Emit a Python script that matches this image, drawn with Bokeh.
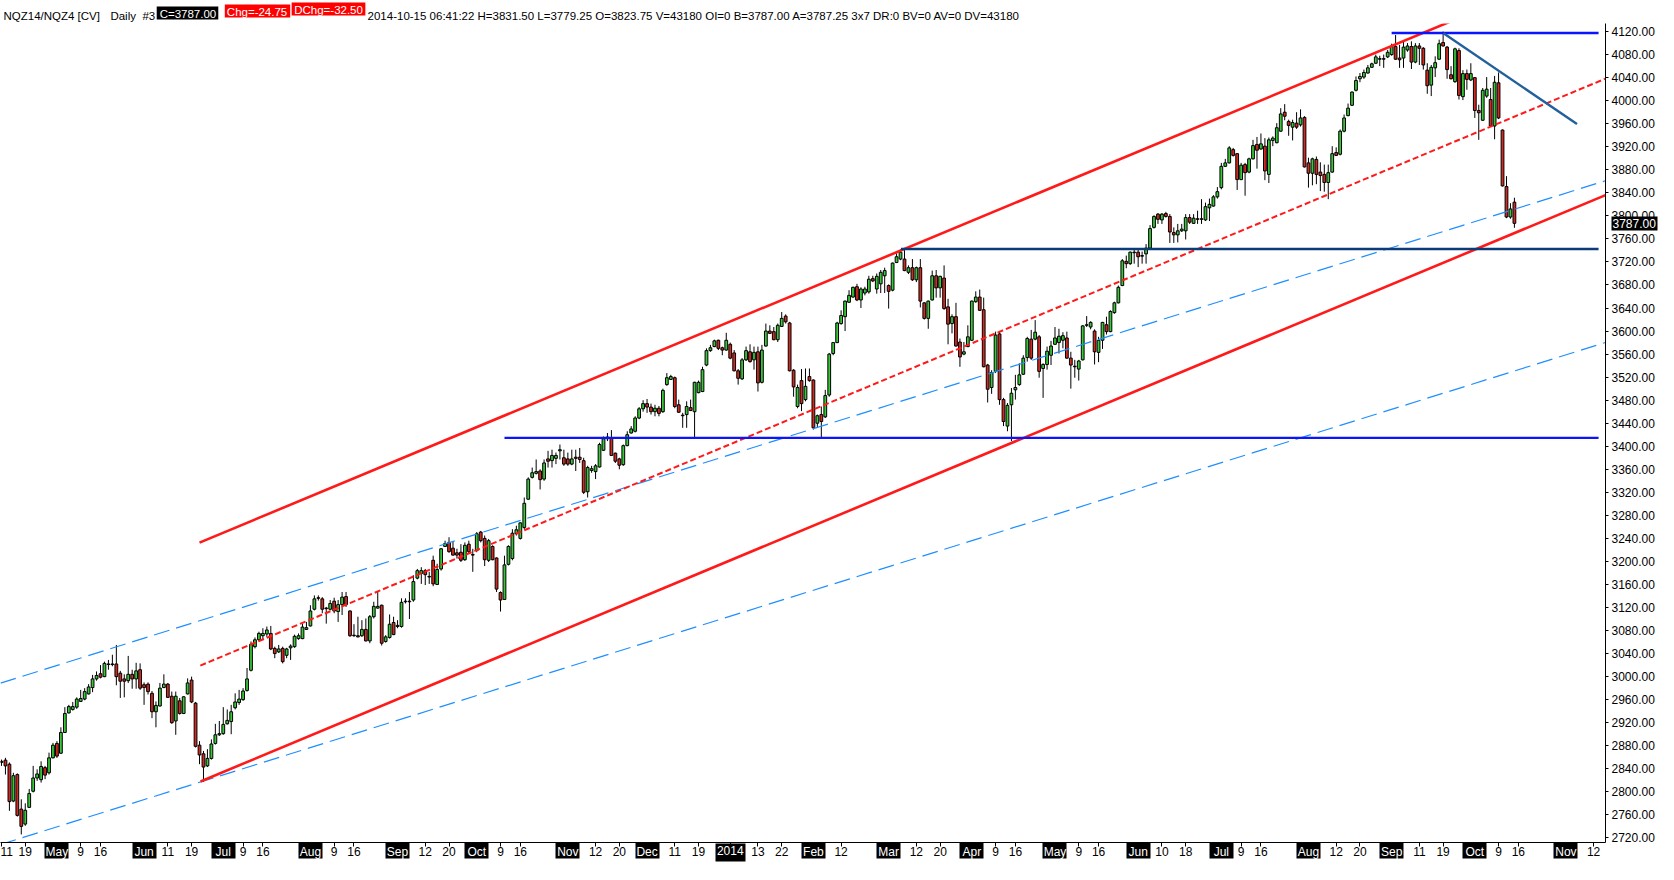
import pandas as pd
from bokeh.plotting import figure
from bokeh.models import ColumnDataSource, FixedTicker, PrintfTickFormatter, LinearAxis, Range1d
from bokeh.embed import file_html
from bokeh.resources import INLINE

# ---------------- data ----------------
FIRST_DAY = "2013-04-11"
HOLIDAYS = ["2013-05-27", "2013-07-04", "2013-09-02", "2013-11-28", "2013-12-25",
            "2014-01-01", "2014-01-20", "2014-02-17", "2014-04-18", "2014-05-26",
            "2014-07-04", "2014-09-01", "2014-11-27"]

opens = [
    2853, 2855, 2848, 2784, 2830, 2770, 2744, 2773, 2801, 2824,
    2821, 2842, 2833, 2859, 2884, 2867, 2903, 2937, 2943, 2947,
    2957, 2961, 2970, 2981, 2996, 3005, 3000, 3022, 3021, 3022,
    3006, 2996, 2993, 3004, 2996, 3012, 2986, 2987, 2971, 2939,
    2949, 2981, 2987, 2966, 2923, 2958, 2936, 2970, 2994, 2954,
    2881, 2866, 2845, 2858, 2884, 2899, 2901, 2918, 2922, 2946,
    2955, 2960, 2976, 3011, 3052, 3064, 3071, 3074, 3075, 3049,
    3043, 3049, 3037, 3050, 3052, 3066, 3066, 3082, 3088, 3117,
    3137, 3135, 3119, 3117, 3131, 3113, 3125, 3139, 3114, 3072,
    3071, 3071, 3082, 3062, 3104, 3119, 3124, 3061, 3068, 3094,
    3089, 3087, 3130, 3131, 3133, 3171, 3179, 3184, 3174, 3202,
    3160, 3187, 3226, 3233, 3223, 3215, 3216, 3203, 3230, 3212,
    3219, 3251, 3240, 3202, 3226, 3206, 3146, 3134, 3195, 3205,
    3248, 3240, 3259, 3308, 3346, 3353, 3357, 3343, 3378, 3375,
    3379, 3392, 3380, 3378, 3369, 3381, 3381, 3375, 3321, 3358,
    3356, 3364, 3393, 3413, 3415, 3388, 3378, 3368, 3401, 3423,
    3426, 3449, 3465, 3474, 3468, 3460, 3466, 3460, 3507, 3516,
    3519, 3472, 3454, 3455, 3467, 3460, 3493, 3495, 3541, 3566,
    3573, 3584, 3571, 3567, 3577, 3562, 3531, 3517, 3550, 3564,
    3550, 3564, 3511, 3574, 3600, 3599, 3585, 3608, 3626, 3614,
    3532, 3469, 3514, 3481, 3521, 3515, 3440, 3455, 3451, 3489,
    3561, 3580, 3613, 3625, 3650, 3659, 3677, 3654, 3666, 3668,
    3691, 3673, 3682, 3696, 3679, 3671, 3719, 3725, 3725, 3702,
    3710, 3689, 3710, 3649, 3622, 3654, 3696, 3675, 3692, 3642,
    3613, 3625, 3581, 3560, 3573, 3584, 3651, 3659, 3637, 3541,
    3502, 3530, 3595, 3481, 3435, 3472, 3498, 3507, 3525, 3554,
    3586, 3586, 3590, 3535, 3542, 3558, 3577, 3580, 3584, 3588,
    3553, 3539, 3534, 3550, 3610, 3607, 3600, 3563, 3584, 3611,
    3599, 3632, 3649, 3679, 3721, 3717, 3736, 3737, 3731, 3734,
    3744, 3780, 3803, 3793, 3804, 3799, 3771, 3767, 3774, 3774,
    3797, 3787, 3795, 3794, 3793, 3814, 3817, 3833, 3849, 3886,
    3892, 3915, 3908, 3863, 3889, 3876, 3899, 3924, 3916, 3921,
    3872, 3931, 3927, 3947, 3980, 3964, 3954, 3961, 3958, 3971,
    3892, 3874, 3898, 3876, 3872, 3858, 3876, 3910, 3907, 3947,
    3974, 3992, 4018, 4038, 4041, 4048, 4058, 4065, 4072, 4073,
    4076, 4080, 4094, 4074, 4074, 4088, 4094, 4067, 4095, 4091,
    4053, 4027, 4057, 4072, 4101, 4093, 4045, 4033, 4087, 4007,
    4047, 4036, 4040, 3983, 3966, 4008, 4002, 3956, 4031, 3949,
    3851, 3798, 3823.75]

highs = [
    2856, 2859, 2851, 2833, 2832, 2787, 2780, 2805, 2845, 2839,
    2853, 2845, 2868, 2885, 2888, 2912, 2947, 2951, 2956, 2964,
    2977, 2980, 2987, 3003, 3009, 3020, 3026, 3029, 3038, 3055,
    3010, 3004, 3036, 3012, 3024, 3023, 2990, 2990, 2975, 2957,
    2989, 3004, 2989, 2974, 2974, 2963, 2966, 2997, 3000, 2956,
    2888, 2871, 2874, 2891, 2918, 2923, 2947, 2943, 2951, 2971,
    2977, 2980, 3015, 3061, 3068, 3078, 3084, 3087, 3088, 3052,
    3055, 3052, 3050, 3056, 3073, 3075, 3092, 3095, 3124, 3141,
    3141, 3138, 3121, 3133, 3137, 3133, 3147, 3147, 3115, 3091,
    3104, 3098, 3101, 3107, 3130, 3147, 3125, 3072, 3108, 3104,
    3098, 3136, 3136, 3147, 3176, 3187, 3190, 3187, 3182, 3210,
    3196, 3223, 3236, 3242, 3235, 3222, 3230, 3233, 3236, 3222,
    3251, 3253, 3245, 3239, 3228, 3207, 3148, 3210, 3228, 3256,
    3262, 3268, 3311, 3346, 3363, 3377, 3360, 3377, 3392, 3394,
    3389, 3403, 3394, 3389, 3394, 3394, 3397, 3380, 3366, 3366,
    3369, 3406, 3417, 3423, 3428, 3389, 3380, 3403, 3426, 3435,
    3452, 3468, 3480, 3482, 3474, 3472, 3470, 3500, 3527, 3524,
    3521, 3481, 3458, 3478, 3481, 3512, 3514, 3538, 3570, 3576,
    3585, 3585, 3573, 3597, 3580, 3567, 3534, 3553, 3573, 3577,
    3573, 3573, 3576, 3613, 3610, 3607, 3613, 3633, 3629, 3616,
    3534, 3507, 3534, 3535, 3535, 3516, 3455, 3469, 3498, 3562,
    3581, 3616, 3636, 3653, 3671, 3677, 3682, 3676, 3677, 3696,
    3696, 3700, 3706, 3710, 3681, 3719, 3735, 3742, 3742, 3714,
    3725, 3712, 3725, 3650, 3653, 3705, 3706, 3696, 3714, 3656,
    3629, 3649, 3587, 3581, 3610, 3653, 3669, 3672, 3658, 3543,
    3532, 3599, 3599, 3484, 3475, 3501, 3524, 3544, 3558, 3590,
    3602, 3619, 3593, 3544, 3573, 3583, 3607, 3604, 3598, 3599,
    3564, 3550, 3550, 3610, 3626, 3617, 3603, 3590, 3616, 3625,
    3636, 3651, 3679, 3725, 3731, 3738, 3743, 3743, 3738, 3751,
    3784, 3801, 3805, 3805, 3807, 3803, 3780, 3786, 3786, 3803,
    3803, 3803, 3809, 3829, 3823, 3830, 3836, 3850, 3892, 3899,
    3921, 3918, 3909, 3892, 3892, 3901, 3932, 3937, 3943, 3935,
    3936, 3938, 3961, 3987, 3994, 3967, 3967, 3980, 3985, 3973,
    3901, 3901, 3903, 3893, 3889, 3889, 3921, 3919, 3950, 3976,
    3995, 4016, 4042, 4048, 4054, 4062, 4066, 4080, 4078, 4080,
    4088, 4099, 4114, 4097, 4103, 4100, 4103, 4100, 4100, 4093,
    4065, 4062, 4077, 4106, 4120, 4095, 4060, 4092, 4091, 4053,
    4054, 4065, 4041, 3993, 4022, 4041, 4022, 4043, 4049, 3950,
    3869, 3822, 3831.5]

lows = [
    2845, 2830, 2767, 2782, 2757, 2726, 2741, 2772, 2799, 2819,
    2816, 2822, 2830, 2858, 2859, 2866, 2902, 2936, 2941, 2944,
    2956, 2959, 2969, 2973, 2993, 2997, 2999, 3012, 3018, 2985,
    2963, 2964, 2989, 2979, 2979, 2977, 2951, 2969, 2928, 2912,
    2948, 2980, 2963, 2918, 2899, 2934, 2935, 2969, 2954, 2877,
    2848, 2817, 2843, 2856, 2882, 2897, 2899, 2917, 2900, 2943,
    2951, 2958, 2974, 3009, 3049, 3061, 3064, 3069, 3046, 3032,
    3041, 3023, 3032, 3029, 3050, 3064, 3065, 3081, 3087, 3115,
    3132, 3110, 3092, 3115, 3110, 3095, 3107, 3121, 3069, 3069,
    3068, 3069, 3061, 3058, 3101, 3118, 3054, 3059, 3066, 3072,
    3084, 3085, 3127, 3100, 3130, 3169, 3161, 3159, 3161, 3157,
    3159, 3184, 3225, 3215, 3210, 3205, 3199, 3201, 3213, 3182,
    3216, 3233, 3192, 3199, 3202, 3147, 3113, 3133, 3193, 3202,
    3245, 3238, 3256, 3307, 3344, 3351, 3325, 3340, 3363, 3363,
    3369, 3377, 3366, 3366, 3367, 3357, 3371, 3317, 3311, 3354,
    3343, 3363, 3392, 3409, 3383, 3371, 3360, 3366, 3400, 3422,
    3424, 3447, 3460, 3458, 3455, 3452, 3452, 3458, 3505, 3515,
    3466, 3458, 3432, 3432, 3461, 3414, 3492, 3494, 3539, 3564,
    3572, 3567, 3558, 3566, 3551, 3530, 3507, 3515, 3548, 3545,
    3533, 3495, 3509, 3573, 3595, 3584, 3581, 3607, 3613, 3530,
    3486, 3466, 3461, 3478, 3512, 3429, 3432, 3415, 3449, 3486,
    3558, 3579, 3611, 3600, 3649, 3658, 3652, 3640, 3662, 3665,
    3685, 3665, 3666, 3666, 3639, 3669, 3718, 3723, 3704, 3699,
    3687, 3685, 3641, 3620, 3604, 3653, 3658, 3658, 3637, 3577,
    3596, 3573, 3538, 3558, 3572, 3583, 3649, 3635, 3537, 3476,
    3491, 3527, 3472, 3435, 3426, 3409, 3481, 3505, 3524, 3547,
    3550, 3584, 3519, 3484, 3533, 3541, 3576, 3561, 3570, 3552,
    3500, 3519, 3514, 3549, 3607, 3603, 3542, 3546, 3569, 3594,
    3598, 3630, 3648, 3678, 3709, 3715, 3717, 3711, 3717, 3717,
    3743, 3778, 3786, 3786, 3797, 3753, 3753, 3754, 3772, 3759,
    3786, 3786, 3786, 3786, 3791, 3791, 3816, 3830, 3846, 3885,
    3891, 3903, 3845, 3862, 3835, 3874, 3898, 3882, 3915, 3862,
    3857, 3921, 3926, 3946, 3966, 3939, 3931, 3951, 3955, 3884,
    3849, 3853, 3855, 3843, 3842, 3829, 3875, 3904, 3905, 3945,
    3973, 3991, 4016, 4032, 4038, 4047, 4057, 4064, 4060, 4057,
    4074, 4078, 4071, 4057, 4057, 4085, 4055, 4065, 4062, 4054,
    4012, 4008, 4041, 4071, 4094, 4038, 4037, 4031, 4002, 4001,
    4019, 4034, 3970, 3932, 3965, 4005, 3955, 3933, 3968, 3851,
    3796, 3795, 3779.25]

closes = [
    2851, 2845, 2783, 2828, 2759, 2740, 2768, 2797, 2824, 2831,
    2844, 2829, 2859, 2881, 2862, 2903, 2936, 2948, 2948, 2961,
    2962, 2974, 2982, 2996, 3002, 2999, 3023, 3021, 3022, 3000,
    2992, 2992, 3004, 2996, 3010, 2980, 2981, 2974, 2939, 2950,
    2980, 2987, 2964, 2920, 2966, 2936, 2965, 2989, 2956, 2879,
    2864, 2843, 2858, 2883, 2899, 2901, 2917, 2924, 2939, 2956,
    2961, 2975, 2996, 3056, 3064, 3075, 3075, 3081, 3048, 3040,
    3048, 3026, 3048, 3053, 3070, 3071, 3086, 3085, 3114, 3135,
    3136, 3117, 3118, 3127, 3114, 3125, 3138, 3125, 3071, 3071,
    3069, 3082, 3062, 3104, 3122, 3122, 3058, 3069, 3091, 3073,
    3087, 3129, 3131, 3130, 3165, 3184, 3184, 3177, 3173, 3161,
    3186, 3222, 3231, 3217, 3211, 3211, 3202, 3228, 3217, 3211,
    3248, 3236, 3203, 3236, 3203, 3152, 3133, 3194, 3226, 3249,
    3255, 3267, 3301, 3343, 3354, 3356, 3342, 3371, 3374, 3384,
    3384, 3394, 3369, 3369, 3378, 3379, 3377, 3320, 3363, 3361,
    3366, 3403, 3413, 3416, 3384, 3374, 3367, 3401, 3420, 3430,
    3449, 3465, 3474, 3468, 3460, 3466, 3457, 3497, 3519, 3521,
    3469, 3459, 3453, 3469, 3462, 3511, 3511, 3533, 3566, 3571,
    3583, 3570, 3567, 3584, 3553, 3531, 3518, 3550, 3566, 3547,
    3563, 3510, 3567, 3600, 3596, 3585, 3610, 3622, 3616, 3531,
    3503, 3502, 3474, 3504, 3514, 3432, 3453, 3443, 3488, 3560,
    3580, 3614, 3627, 3652, 3662, 3676, 3654, 3673, 3673, 3690,
    3687, 3695, 3702, 3705, 3669, 3718, 3729, 3737, 3705, 3710,
    3689, 3710, 3652, 3622, 3652, 3696, 3675, 3695, 3639, 3612,
    3625, 3574, 3555, 3564, 3590, 3652, 3659, 3636, 3538, 3499,
    3528, 3593, 3481, 3443, 3471, 3492, 3502, 3524, 3553, 3587,
    3553, 3598, 3530, 3542, 3565, 3574, 3588, 3591, 3592, 3553,
    3541, 3538, 3548, 3609, 3611, 3615, 3564, 3584, 3615, 3599,
    3634, 3649, 3676, 3722, 3717, 3737, 3737, 3729, 3730, 3744,
    3778, 3799, 3794, 3803, 3799, 3772, 3767, 3774, 3777, 3797,
    3789, 3796, 3794, 3795, 3816, 3820, 3833, 3842, 3886, 3892,
    3918, 3905, 3863, 3888, 3875, 3899, 3922, 3914, 3925, 3878,
    3932, 3935, 3953, 3977, 3973, 3957, 3962, 3954, 3970, 3885,
    3874, 3899, 3872, 3870, 3858, 3875, 3908, 3905, 3947, 3970,
    3987, 4015, 4035, 4042, 4049, 4057, 4064, 4076, 4073, 4072,
    4084, 4094, 4072, 4071, 4093, 4095, 4067, 4095, 4091, 4062,
    4026, 4058, 4066, 4099, 4095, 4054, 4038, 4090, 4009, 4047,
    4037, 4047, 3983, 3979, 4018, 4020, 3956, 4032, 3970, 3852,
    3798, 3812, 3787]

# drawn trend lines: (bar index, price) end points
upper_channel = [(50.0, 3232.7), (405.0, 4249.6)]
lower_channel = [(50.25, 2818.0), (405.0, 3836.1)]
mid_channel = [(50.2, 3019.2), (405.0, 4038.3)]
blue_upper = [(-0.25, 2988.7), (405.0, 3861.0)]
blue_lower = [(-0.25, 2708.5), (405.0, 3580.2)]
support_3414 = [(127.0, 3414.5), (403.25, 3414.5)]
resist_3742 = [(227.1, 3742.5), (403.25, 3742.5)]
top_4117 = [(351.0, 4117.5), (403.25, 4117.5)]
down_trend = [(364.1, 4117.1), (397.8, 3959.5)]

TICK_DATES = ["2013-04-11", "2013-04-19", "2013-05-01", "2013-05-09", "2013-05-16",
              "2013-06-03", "2013-06-11", "2013-06-19", "2013-07-01", "2013-07-09",
              "2013-07-16", "2013-08-01", "2013-08-09", "2013-08-16", "2013-09-03",
              "2013-09-12", "2013-09-20", "2013-10-01", "2013-10-09", "2013-10-16",
              "2013-11-01", "2013-11-12", "2013-11-20", "2013-12-02", "2013-12-11",
              "2013-12-19", "2014-01-02", "2014-01-13", "2014-01-22", "2014-02-03",
              "2014-02-12", "2014-03-03", "2014-03-12", "2014-03-20", "2014-04-01",
              "2014-04-09", "2014-04-16", "2014-05-01", "2014-05-09", "2014-05-16",
              "2014-06-02", "2014-06-10", "2014-06-18", "2014-07-01", "2014-07-09",
              "2014-07-16", "2014-08-01", "2014-08-12", "2014-08-20", "2014-09-02",
              "2014-09-11", "2014-09-19", "2014-10-01", "2014-10-09", "2014-10-16",
              "2014-11-03", "2014-11-12"]
TICK_TEXT = ["11", "19", "May", "9", "16", "Jun", "11", "19", "Jul", "9",
             "16", "Aug", "9", "16", "Sep", "12", "20", "Oct", "9", "16",
             "Nov", "12", "20", "Dec", "11", "19", "2014", "13", "22", "Feb",
             "12", "Mar", "12", "20", "Apr", "9", "16", "May", "9", "16",
             "Jun", "10", "18", "Jul", "9", "16", "Aug", "12", "20", "Sep",
             "11", "19", "Oct", "9", "16", "Nov", "12"]

Y_TICKS = [2720, 2760, 2800, 2840, 2880, 2920, 2960, 3000, 3040, 3080, 3120, 3160,
           3200, 3240, 3280, 3320, 3360, 3400, 3440, 3480, 3520, 3560, 3600, 3640,
           3680, 3720, 3760, 3800, 3840, 3880, 3920, 3960, 4000, 4040, 4080, 4120]

HEADER = [("NQZ14/NQZ4 [CV]", None), ("Daily", None), ("#3", None),
          ("C=3787.00", "black"), ("Chg=-24.75", "red"), ("DChg=-32.50", "red"),
          ("2014-10-15 06:41:22 H=3831.50 L=3779.25 O=3823.75 V=43180 OI=0 "
           "B=3787.00 A=3787.25 3x7 DR:0 BV=0 AV=0 DV=43180", None)]
LAST_PRICE = 3787.00

# ---------------- styling / layout ----------------
FONT = "Liberation Sans"
AX_SIZE = 12
HSIZE = 11.5
GREEN = "#38c838"
RED = "#d22a20"
W, H = 1658, 864
BORDER_R, BORDER_T, BORDER_B = 52, 17, 22
FRAME_W = W - BORDER_R
X0, X1 = -0.25, 405.0
Y0, Y1 = 2712.0, 4134.0

CW = {" ": .278, ".": .278, ":": .278, "-": .333, "=": .584, "/": .278, "[": .278,
      "]": .278, "#": .556, "i": .222, "l": .222, "I": .278, "x": .5, "y": .5,
      "C": .722, "D": .722, "H": .722, "N": .722, "O": .778, "Q": .778, "R": .722,
      "V": .667, "Z": .611, "A": .667, "B": .667, "L": .556, "M": .833, "J": .5,
      "S": .667, "F": .611, "u": .556, "a": .556, "e": .556, "p": .556, "g": .556,
      "o": .556, "c": .5, "t": .278, "v": .5, "r": .333, "n": .556, "b": .556, "h": .556}
def text_w(s, size):
    return size * sum(.556 if ch.isdigit() else CW.get(ch, .6) for ch in s)

def px_to_x(px):
    return round(X0 + px * (X1 - X0) / FRAME_W, 4)

dates = pd.bdate_range(FIRST_DAY, "2014-12-31", freq="C", holidays=HOLIDAYS)
pos_of = {d.strftime("%Y-%m-%d"): i for i, d in enumerate(dates)}
tick_pos = [pos_of[d] for d in TICK_DATES]

n = len(closes)
src = ColumnDataSource(dict(
    x=list(range(n)),
    hi=[max(h, o, c) for h, o, c in zip(highs, opens, closes)],
    lo=[min(l, o, c) for l, o, c in zip(lows, opens, closes)],
    top=[max(o, c) for o, c in zip(opens, closes)],
    bot=[min(o, c) for o, c in zip(opens, closes)],
    color=[GREEN if c >= o else RED for o, c in zip(opens, closes)],
))

p = figure(width=W, height=H, x_range=Range1d(X0, X1), y_range=Range1d(Y0, Y1),
           output_backend="svg", toolbar_location=None,
           x_axis_location=None, y_axis_location=None,
           min_border_left=0, min_border_right=BORDER_R,
           min_border_top=BORDER_T, min_border_bottom=BORDER_B)
p.grid.visible = False
p.outline_line_color = None
p.background_fill_color = "white"
p.border_fill_color = "white"

def style_labels(ax, color, size):
    ax.major_label_text_font = FONT
    ax.major_label_text_font_size = "%gpx" % size
    ax.major_label_text_color = color
    ax.minor_tick_line_color = None

# main date axis: all ticks, day numbers as labels
is_month = [not (s.isdigit() and len(s) <= 2) for s in TICK_TEXT]
xaxis = LinearAxis(ticker=FixedTicker(ticks=tick_pos),
                   major_label_overrides={t: ("" if m else s)
                                          for t, s, m in zip(tick_pos, TICK_TEXT, is_month)})
xaxis.axis_line_color = "black"
xaxis.major_tick_line_color = "black"
xaxis.major_tick_out = 4
xaxis.major_tick_in = 0
xaxis.major_label_standoff = 0
style_labels(xaxis, "black", AX_SIZE)
p.add_layout(xaxis, "below")

# price axis
yaxis = LinearAxis(ticker=FixedTicker(ticks=Y_TICKS), formatter=PrintfTickFormatter(format="%.2f"))
yaxis.axis_line_color = "black"
yaxis.major_tick_line_color = "black"
yaxis.major_tick_out = 3
yaxis.major_tick_in = 0
yaxis.major_label_standoff = 3
style_labels(yaxis, "black", AX_SIZE)
p.add_layout(yaxis, "right")

def boxed_axis(side, ticks, labels, text_color, box_color, box_w, box_len, standoff, size):
    """Helper axis whose wide ticks form label boxes behind its labels."""
    ax = LinearAxis(ticker=FixedTicker(ticks=ticks),
                    major_label_overrides=dict(zip(ticks, labels)))
    ax.axis_line_color = None
    if box_color is None:
        ax.major_tick_line_color = None
        ax.major_tick_in = 0
    else:
        ax.major_tick_line_color = box_color
        ax.major_tick_line_width = box_w
        ax.major_tick_line_cap = "butt"
        ax.major_tick_in = box_len
    ax.major_tick_out = 0
    ax.major_label_standoff = standoff
    style_labels(ax, text_color, size)
    p.add_layout(ax, side)
    return ax

# month names in black boxes (one axis), then the year label (second axis, offset-compensated)
mon_t = [t for t, s, m in zip(tick_pos, TICK_TEXT, is_month) if m and not s.isdigit()]
mon_s = [s for t, s, m in zip(tick_pos, TICK_TEXT, is_month) if m and not s.isdigit()]
yr_t = [t for t, s, m in zip(tick_pos, TICK_TEXT, is_month) if m and s.isdigit()]
yr_s = [s for t, s, m in zip(tick_pos, TICK_TEXT, is_month) if m and s.isdigit()]
boxed_axis("below", mon_t, mon_s, "white", "black", 24, 16, -14, AX_SIZE)
boxed_axis("below", yr_t, yr_s, "white", "black", 30, 18, -16, AX_SIZE)

# last-price tag on the price scale
boxed_axis("right", [LAST_PRICE], ["%.2f" % LAST_PRICE], "white", "black",
           14, 46, -45, AX_SIZE)

# header line above the chart
h_plain_t, h_plain_s = [], []
cur = 0.0
for (txt, bg), rx in zip(HEADER, [3, 110, 142, 155, 224, 275, 336]):
    bw = text_w(txt, HSIZE) + (5 if bg else 0)
    start = max(rx, cur + 2)
    cx = px_to_x(start + bw / 2.0)
    if bg is None:
        h_plain_t.append(cx)
        h_plain_s.append(txt)
    else:
        boxed_axis("above", [cx], [txt], "white", bg, bw, 13, -13, HSIZE)
    cur = start + bw
hdr = LinearAxis(ticker=FixedTicker(ticks=h_plain_t),
                 major_label_overrides=dict(zip(h_plain_t, h_plain_s)))
hdr.axis_line_color = None
hdr.major_tick_line_color = None
hdr.major_tick_in = 0
hdr.major_tick_out = 0
hdr.major_label_standoff = 2
style_labels(hdr, "black", HSIZE)
p.above.insert(0, hdr)

# candles
p.segment(x0="x", y0="hi", x1="x", y1="lo", source=src, line_color="black", line_width=1)
p.vbar(x="x", width=0.7, top="top", bottom="bot", source=src,
       fill_color="color", line_color="black", line_width=1)

def draw(pts, **kw):
    p.line([pts[0][0], pts[1][0]], [pts[0][1], pts[1][1]], **kw)

draw(blue_upper, line_color="#1e8fff", line_width=1.2, line_dash="16 7")
draw(blue_lower, line_color="#1e8fff", line_width=1.2, line_dash="16 7")
draw(mid_channel, line_color="#ff1a1a", line_width=2, line_dash="6 3")
draw(upper_channel, line_color="#ff1a1a", line_width=2.6)
draw(lower_channel, line_color="#ff1a1a", line_width=2.6)
draw(support_3414, line_color="#0a14ff", line_width=2.4)
draw(top_4117, line_color="#0a14ff", line_width=2.4)
draw(resist_3742, line_color="#0c3c78", line_width=2.4)
draw(down_trend, line_color="#22609c", line_width=2.4)

open("out.html", "w").write(file_html(p, INLINE))
